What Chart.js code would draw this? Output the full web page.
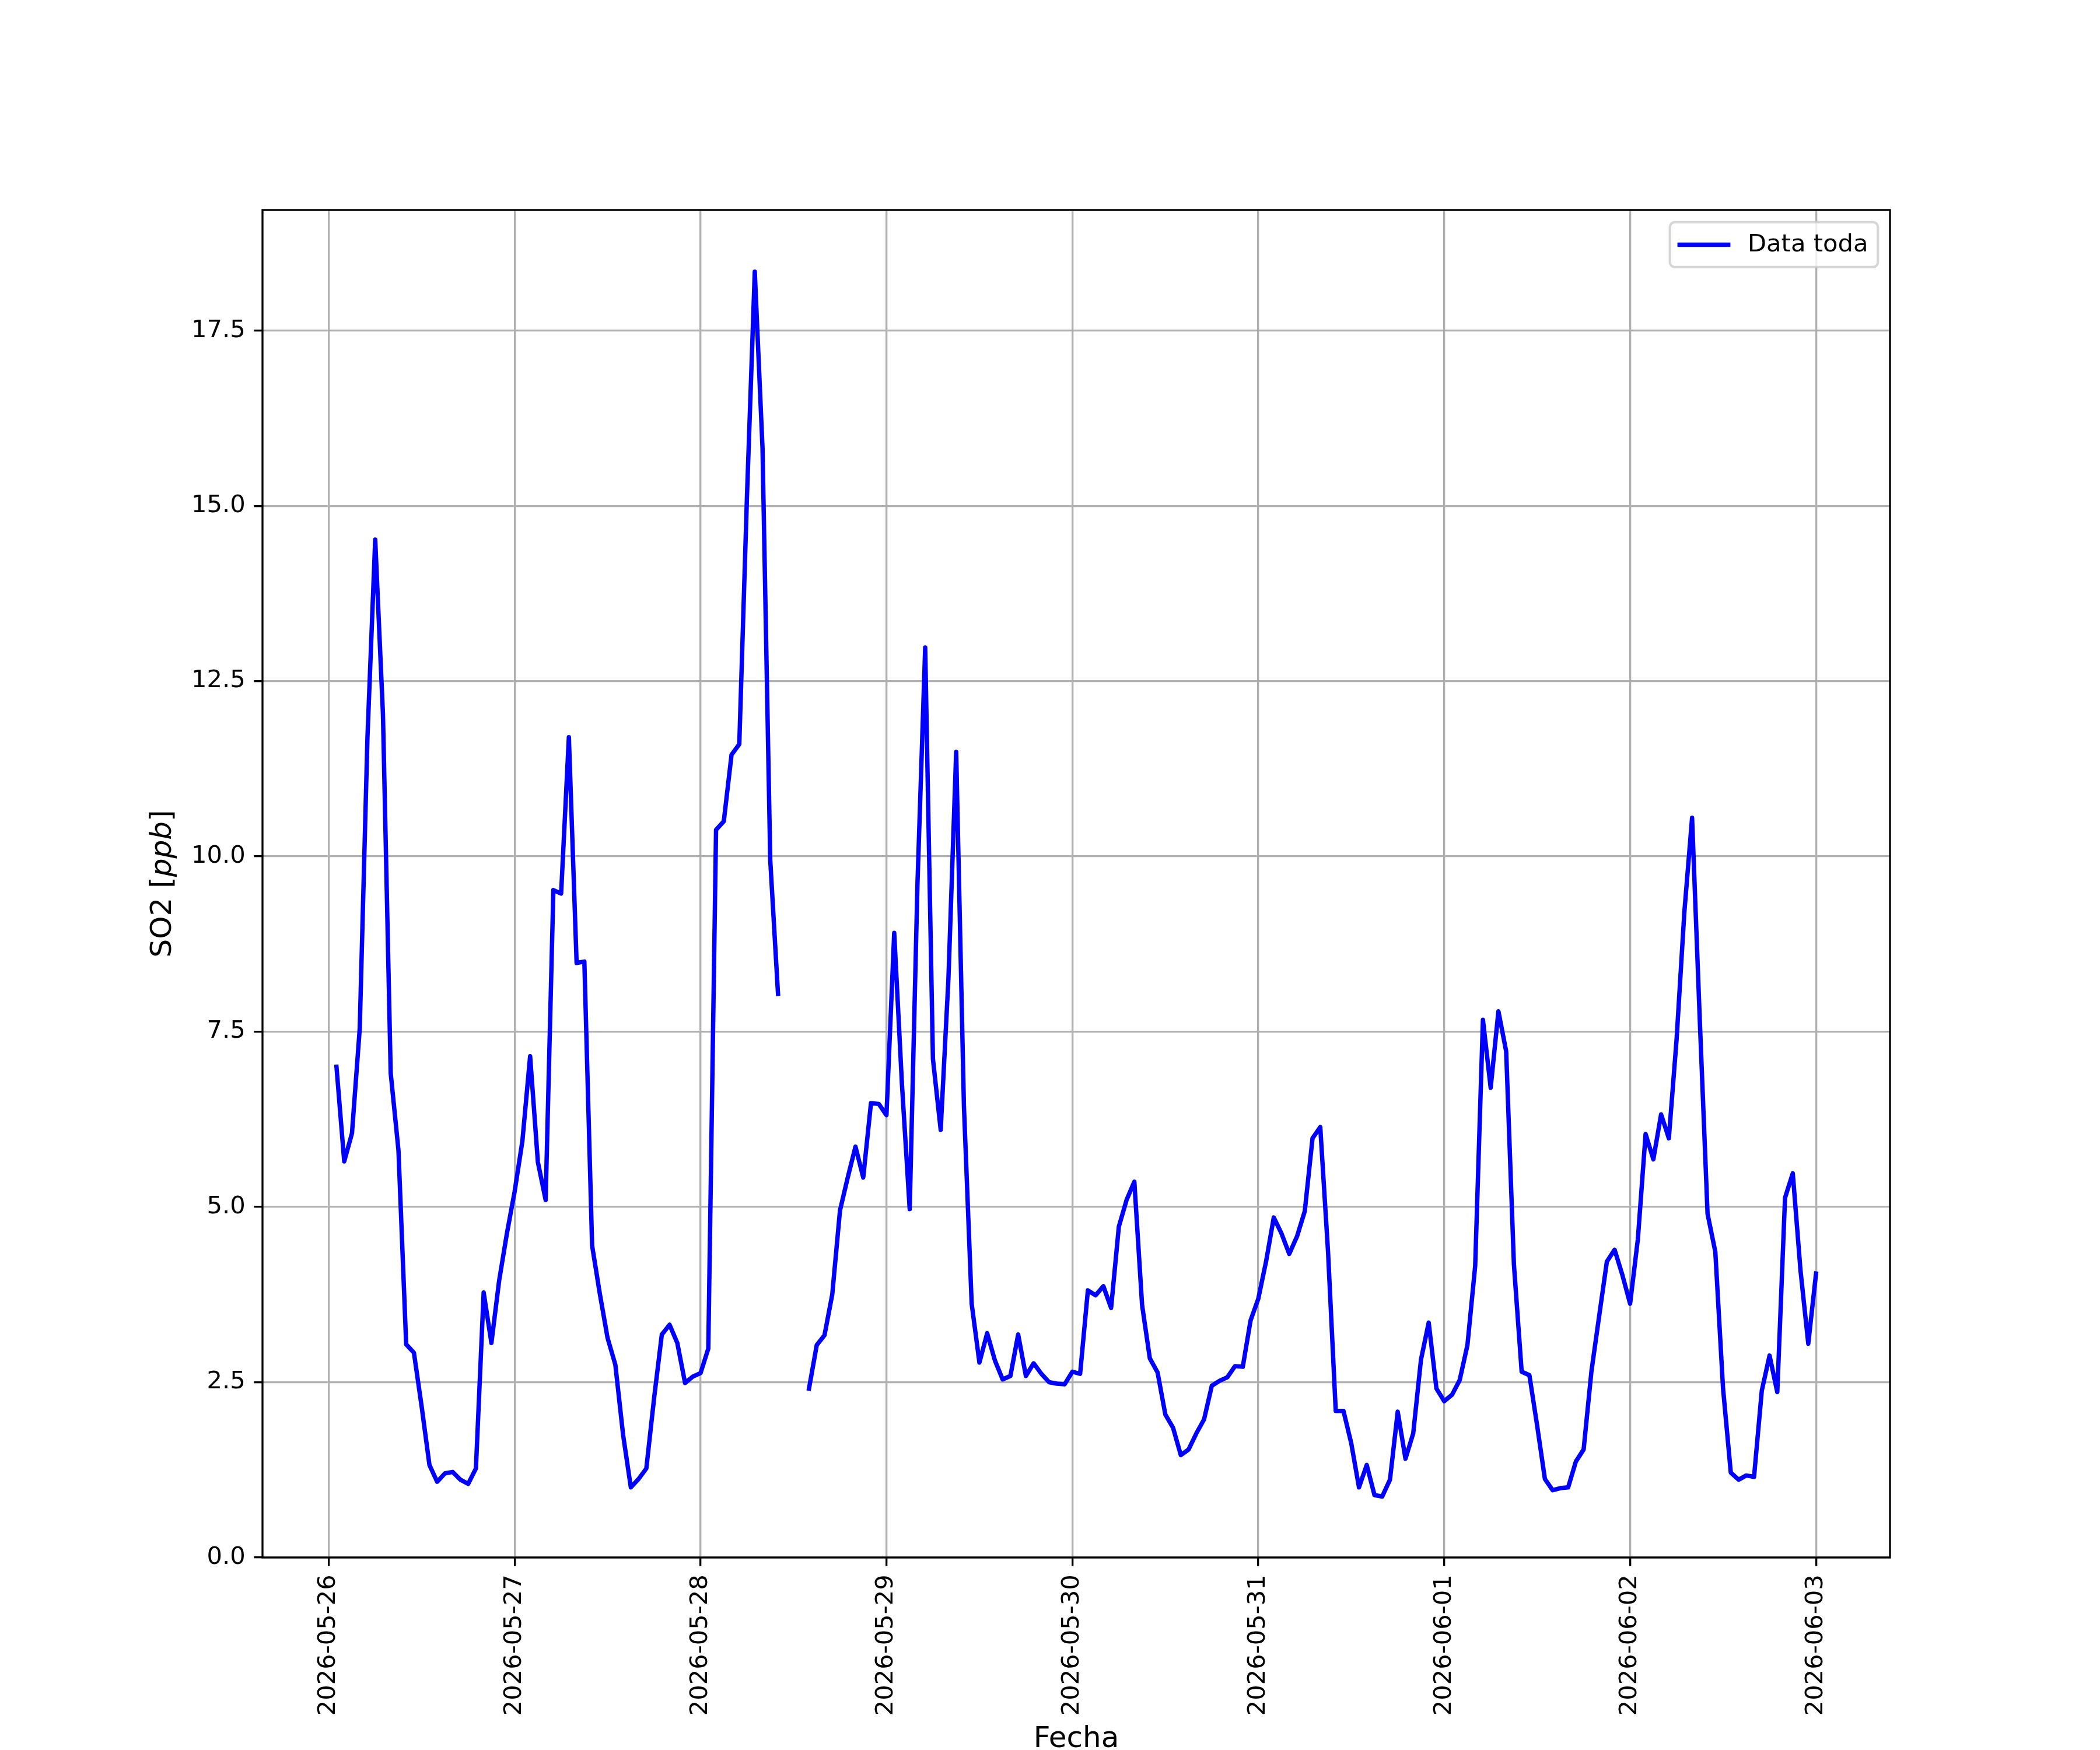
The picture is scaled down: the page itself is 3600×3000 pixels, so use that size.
<!DOCTYPE html>
<html>
<head>
<meta charset="utf-8">
<title>SO2</title>
<script src="https://cdn.jsdelivr.net/npm/chart.js@4.4.1/dist/chart.umd.min.js"></script>
<style>
  body { margin: 0; background: #ffffff; }
  canvas { display: block; }
</style>
</head>
<body>
<canvas id="so2-chart" width="3600" height="3000" style="width:3600px;height:3000px"></canvas>
<script>
// Hourly SO2 readings, first value at 2026-05-26 01:00 (null = no data)
const so2Values = [
    7.0, 5.65, 6.05, 7.54, 11.7, 14.52, 12.03, 6.91, 5.81, 3.04, 2.92, 2.15,
    1.32, 1.08, 1.2, 1.22, 1.11, 1.05, 1.27, 3.78, 3.06, 3.95, 4.62, 5.22,
    5.94, 7.15, 5.64, 5.10, 9.52, 9.47, 11.7, 8.48, 8.5, 4.45, 3.76, 3.13,
    2.75, 1.75, 1.0, 1.12, 1.27, 2.27, 3.18, 3.32, 3.06, 2.49, 2.58, 2.63,
    2.98, 10.38, 10.5, 11.45, 11.6, 15.16, 18.34, 15.82, 9.94, 8.04, null, null,
    null, 2.41, 3.03, 3.17, 3.75, 4.95, 5.42, 5.86, 5.42, 6.48, 6.47, 6.31,
    8.91, 6.75, 4.97, 9.6, 12.98, 7.11, 6.1, 8.26, 11.49, 6.44, 3.62, 2.78,
    3.2, 2.81, 2.54, 2.59, 3.18, 2.59, 2.77, 2.62, 2.5, 2.48, 2.47, 2.65,
    2.62, 3.81, 3.74, 3.87, 3.56, 4.72, 5.1, 5.36, 3.6, 2.84, 2.64, 2.04,
    1.85, 1.46, 1.54, 1.77, 1.97, 2.45, 2.52, 2.57, 2.73, 2.72, 3.38, 3.69,
    4.22, 4.85, 4.62, 4.33, 4.58, 4.94, 5.98, 6.14, 4.37, 2.09, 2.09, 1.63,
    1.0, 1.32, 0.89, 0.87, 1.11, 2.08, 1.41, 1.77, 2.82, 3.35, 2.41, 2.23,
    2.32, 2.53, 3.03, 4.16, 7.67, 6.70, 7.79, 7.22, 4.18, 2.65, 2.60, 1.88,
    1.12, 0.96, 0.99, 1.0, 1.37, 1.54, 2.65, 3.44, 4.22, 4.39, 4.03, 3.62,
    4.54, 6.04, 5.68, 6.32, 5.98, 7.39, 9.2, 10.55, 7.65, 4.9, 4.36, 2.41,
    1.21, 1.11, 1.17, 1.15, 2.38, 2.88, 2.36, 5.13, 5.48, 4.09, 3.05, 4.05
];
const firstHour = 1;
const dayLabels = ['2026-05-26', '2026-05-27', '2026-05-28', '2026-05-29', '2026-05-30',
                   '2026-05-31', '2026-06-01', '2026-06-02', '2026-06-03'];
const yTickValues = [0, 2.5, 5, 7.5, 10, 12.5, 15, 17.5];
const seriesLabel = 'Data toda';

// x is hours since 2026-05-26 00:00
const points = so2Values.map((v, i) => ({ x: firstHour + i, y: v }));

const FONT = 'DejaVu Sans';
const PX = 300 / 72; // matplotlib points -> pixels at 300 dpi
Chart.defaults.font.family = FONT;
Chart.defaults.color = '#000000';

// matplotlib style box around the plot area
const framePlugin = {
    id: 'frame',
    afterDatasetsDraw(chart) {
        const { ctx, chartArea: a } = chart;
        ctx.save();
        ctx.strokeStyle = '#000000';
        ctx.lineWidth = 0.8 * PX;
        ctx.lineJoin = 'miter';
        ctx.strokeRect(a.left, a.top, a.right - a.left, a.bottom - a.top);
        ctx.restore();
    }
};

// y title with italic unit, like "SO2 [$ppb$]"
const yTitlePlugin = {
    id: 'yTitle',
    afterDraw(chart) {
        const { ctx, chartArea: a } = chart;
        const size = 12 * PX;
        const parts = [
            { text: 'SO2 [', style: 'normal' },
            { text: 'ppb', style: 'italic' },
            { text: ']', style: 'normal' }
        ];
        ctx.save();
        ctx.translate(a.left - 170, (a.top + a.bottom) / 2);
        ctx.rotate(-Math.PI / 2);
        ctx.fillStyle = '#000000';
        ctx.textBaseline = 'middle';
        ctx.textAlign = 'left';
        let total = 0;
        parts.forEach(p => {
            ctx.font = `${p.style} ${size}px "${FONT}"`;
            p.w = ctx.measureText(p.text).width;
            total += p.w;
        });
        let x = -total / 2;
        parts.forEach(p => {
            ctx.font = `${p.style} ${size}px "${FONT}"`;
            ctx.fillText(p.text, x, 0);
            x += p.w;
        });
        ctx.restore();
    }
};

// legend in the upper right corner of the axes
const legendPlugin = {
    id: 'boxLegend',
    afterDraw(chart) {
        const { ctx, chartArea: a } = chart;
        const ds = chart.data.datasets[0];
        const fs = 10 * PX;
        const pad = 0.4 * fs, handle = 2 * fs, gap = 0.8 * fs;
        ctx.save();
        ctx.font = `${fs}px "${FONT}"`;
        const tw = ctx.measureText(ds.label).width;
        const w = pad + handle + gap + tw + pad;
        const h = 2 * pad + 1.05 * fs;
        const x = a.right - 0.5 * fs - w;
        const y = a.top + 0.5 * fs;
        ctx.beginPath();
        ctx.roundRect(x, y, w, h, 0.2 * fs);
        ctx.fillStyle = 'rgba(255,255,255,0.8)';
        ctx.fill();
        ctx.strokeStyle = 'rgba(204,204,204,0.8)';
        ctx.lineWidth = 1 * PX;
        ctx.stroke();
        const cy = y + h / 2;
        ctx.beginPath();
        ctx.moveTo(x + pad, cy);
        ctx.lineTo(x + pad + handle, cy);
        ctx.strokeStyle = ds.borderColor;
        ctx.lineWidth = ds.borderWidth;
        ctx.lineCap = 'square';
        ctx.stroke();
        ctx.fillStyle = '#000000';
        ctx.textBaseline = 'middle';
        ctx.fillText(ds.label, x + pad + handle + gap, cy + 1);
        ctx.restore();
    }
};

const ctx = document.getElementById('so2-chart').getContext('2d');
new Chart(ctx, {
    type: 'line',
    data: {
        datasets: [{
            label: seriesLabel,
            data: points,
            borderColor: '#0000ff',
            borderWidth: 1.8 * PX,
            borderJoinStyle: 'round',
            borderCapStyle: 'square',
            pointRadius: 0,
            tension: 0,
            fill: false,
            spanGaps: false
        }]
    },
    options: {
        responsive: false,
        maintainAspectRatio: false,
        devicePixelRatio: 1,
        animation: false,
        events: [],
        parsing: true,
        layout: { padding: { top: 360, right: 360, bottom: 0, left: 0 } },
        plugins: {
            legend: { display: false },
            tooltip: { enabled: false }
        },
        scales: {
            x: {
                type: 'linear',
                min: -8.55,
                max: 201.55,
                afterBuildTicks: (scale) => {
                    scale.ticks = dayLabels.map((_, i) => ({ value: i * 24 }));
                },
                afterFit: (scale) => { scale.height = 330; },
                ticks: {
                    autoSkip: false,
                    minRotation: 90,
                    maxRotation: 90,
                    padding: 3.5 * PX,
                    color: '#000000',
                    font: { size: 10 * PX },
                    callback: (value, index) => dayLabels[index]
                },
                grid: {
                    color: '#b0b0b0',
                    lineWidth: 0.8 * PX,
                    tickColor: '#000000',
                    tickWidth: 0.8 * PX,
                    tickLength: 3.5 * PX
                },
                border: { display: false },
                title: {
                    display: true,
                    text: 'Fecha',
                    color: '#000000',
                    font: { size: 12 * PX },
                    padding: { top: 0, bottom: -12 }
                }
            },
            y: {
                type: 'linear',
                min: 0,
                max: 19.22,
                afterBuildTicks: (scale) => {
                    scale.ticks = yTickValues.map(v => ({ value: v }));
                },
                afterFit: (scale) => { scale.width = 450; },
                ticks: {
                    autoSkip: false,
                    padding: 3.5 * PX,
                    color: '#000000',
                    font: { size: 10 * PX },
                    callback: (value) => Number(value).toFixed(1)
                },
                grid: {
                    color: '#b0b0b0',
                    lineWidth: 0.8 * PX,
                    tickColor: '#000000',
                    tickWidth: 0.8 * PX,
                    tickLength: 3.5 * PX
                },
                border: { display: false }
            }
        }
    },
    plugins: [framePlugin, yTitlePlugin, legendPlugin]
});
</script>
</body>
</html>
